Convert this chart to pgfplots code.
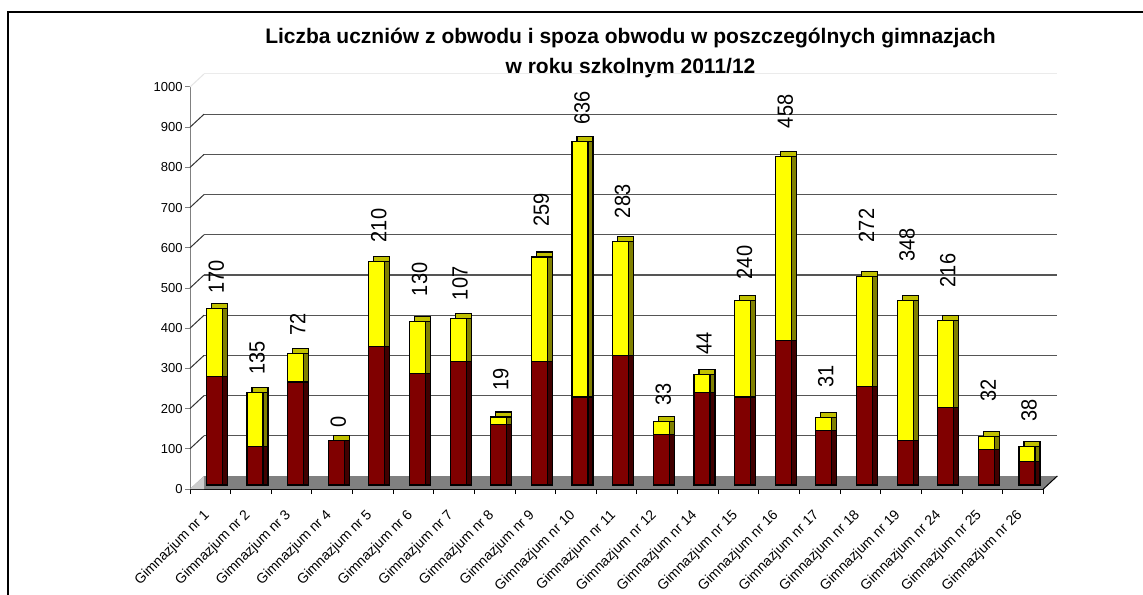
\documentclass[border=0pt]{standalone}
\usepackage{pgfplots}
\usepackage{pgfplotstable}
\pgfplotsset{compat=1.18}
\usepackage{fontspec}
\setmainfont{Liberation Sans}
\definecolor{redF}{HTML}{800000}
\definecolor{redS}{HTML}{400000}
\definecolor{yelF}{HTML}{FFFF00}
\definecolor{yelS}{HTML}{808000}
\definecolor{yelT}{HTML}{C0C000}
\definecolor{gridc}{HTML}{555555}
\definecolor{floorc}{HTML}{808080}

\pgfplotstableread{
idx red yel total lab
0 270 170 440 476
1 95 135 230 273
2 256 72 328 370
3 110 0 110 141
4 345 210 555 603
5 277 130 407 469
6 308 107 415 459
7 150 19 169 234
8 308 259 567 641
9 219 636 855 896
10 323 283 606 663
11 125 33 158 196
12 230 44 274 323
13 219 240 459 511
14 360 458 818 887
15 136 31 167 241
16 246 272 518 603
17 111 348 459 554
18 193 216 409 491
19 89 32 121 207
20 58 38 96 157
}\data

\begin{document}
\begin{tikzpicture}[x=1pt,y=1pt]
\useasboundingbox (0,0) rectangle (571.5,297);
\fill[white] (0,0) rectangle (571.5,297);
\draw[line width=0.8pt] (4,-2) -- (4,291) -- (573,291);
\node[font=\bfseries\fontsize{10.5}{15}\selectfont, align=center] at (315.25,270.5)
  {Liczba uczniów z obwodu i spoza obwodu w poszczególnych gimnazjach\\w roku szkolnym 2011/12};

\begin{axis}[
  at={(95pt,52.5pt)}, anchor=south west, scale only axis,
  width=426.65pt, height=201pt,
  xmin=-0.5, xmax=20.5, ymin=0, ymax=1000,
  axis x line*=bottom, axis y line*=left,
  x axis line style={black, line width=0.6pt, -},
  y axis line style={draw=gray, line width=0.5pt, -},
  /pgf/number format/assume math mode=true,
  /pgf/number format/1000 sep={},
  ytick={0,100,...,1000},
  xtick={0,...,20},
  xticklabels={Gimnazjum nr 1,Gimnazjum nr 2,Gimnazjum nr 3,Gimnazjum nr 4,Gimnazjum nr 5,Gimnazjum nr 6,Gimnazjum nr 7,Gimnazjum nr 8,Gimnazjum nr 9,Gimnazjum nr 10,Gimnazjum nr 11,Gimnazjum nr 12,Gimnazjum nr 14,Gimnazjum nr 15,Gimnazjum nr 16,Gimnazjum nr 17,Gimnazjum nr 18,Gimnazjum nr 19,Gimnazjum nr 24,Gimnazjum nr 25,Gimnazjum nr 26},
  minor xtick={-0.5,0.5,...,20.5},
  major x tick style={draw=none},
  minor x tick style={black, line width=0.5pt},
  y tick style={gray, line width=0.5pt},
  tick align=outside, major tick length=2.5pt, minor tick length=2.5pt,
  yticklabel style={font=\fontsize{6.5}{7}\selectfont, inner sep=1pt},
  xticklabel style={font=\fontsize{7}{8}\selectfont, xshift=-3.8pt, yshift=-7pt, rotate=45, anchor=north east, inner sep=0pt},
  clip=false,
]
% floor
\fill[floorc] (axis cs:-0.5,0) -- (axis cs:20.5,0) -- ([shift={(7pt,6.5pt)}]axis cs:20.5,0) -- ([shift={(7pt,6.5pt)}]axis cs:-0.5,0) -- cycle;
\fill[black!20] (axis cs:-0.5,0) -- ([shift={(7pt,6.5pt)}]axis cs:-0.5,0) -- ([shift={(7pt,0pt)}]axis cs:-0.5,0) -- cycle;
\draw[black, line width=0.5pt] (axis cs:20.5,0) -- ++(7pt,6.5pt);
% back-wall grid
\draw[gridc, line width=0.55pt] ([shift={(7pt,6.5pt)}]axis cs:-0.5,100) -- ([shift={(7pt,6.5pt)}]axis cs:20.5,100);
\draw[gridc, line width=0.55pt] ([shift={(7pt,6.5pt)}]axis cs:-0.5,200) -- ([shift={(7pt,6.5pt)}]axis cs:20.5,200);
\draw[gridc, line width=0.55pt] ([shift={(7pt,6.5pt)}]axis cs:-0.5,300) -- ([shift={(7pt,6.5pt)}]axis cs:20.5,300);
\draw[gridc, line width=0.55pt] ([shift={(7pt,6.5pt)}]axis cs:-0.5,400) -- ([shift={(7pt,6.5pt)}]axis cs:20.5,400);
\draw[gridc, line width=0.55pt] ([shift={(7pt,6.5pt)}]axis cs:-0.5,500) -- ([shift={(7pt,6.5pt)}]axis cs:20.5,500);
\draw[gridc, line width=0.55pt] ([shift={(7pt,6.5pt)}]axis cs:-0.5,600) -- ([shift={(7pt,6.5pt)}]axis cs:20.5,600);
\draw[gridc, line width=0.55pt] ([shift={(7pt,6.5pt)}]axis cs:-0.5,700) -- ([shift={(7pt,6.5pt)}]axis cs:20.5,700);
\draw[gridc, line width=0.55pt] ([shift={(7pt,6.5pt)}]axis cs:-0.5,800) -- ([shift={(7pt,6.5pt)}]axis cs:20.5,800);
\draw[gridc, line width=0.55pt] ([shift={(7pt,6.5pt)}]axis cs:-0.5,900) -- ([shift={(7pt,6.5pt)}]axis cs:20.5,900);
\draw[black!8, line width=0.5pt] ([shift={(7pt,6.5pt)}]axis cs:-0.5,1000) -- ([shift={(7pt,6.5pt)}]axis cs:20.5,1000);
\draw[black!80, line width=0.5pt] (axis cs:-0.5,100) -- ++(7pt,6.5pt);
\draw[black!80, line width=0.5pt] (axis cs:-0.5,200) -- ++(7pt,6.5pt);
\draw[black!80, line width=0.5pt] (axis cs:-0.5,300) -- ++(7pt,6.5pt);
\draw[black!80, line width=0.5pt] (axis cs:-0.5,400) -- ++(7pt,6.5pt);
\draw[black!80, line width=0.5pt] (axis cs:-0.5,500) -- ++(7pt,6.5pt);
\draw[black!80, line width=0.5pt] (axis cs:-0.5,600) -- ++(7pt,6.5pt);
\draw[black!80, line width=0.5pt] (axis cs:-0.5,700) -- ++(7pt,6.5pt);
\draw[black!80, line width=0.5pt] (axis cs:-0.5,800) -- ++(7pt,6.5pt);
\draw[black!80, line width=0.5pt] (axis cs:-0.5,900) -- ++(7pt,6.5pt);
\draw[black!10, line width=0.5pt] (axis cs:-0.5,1000) -- ++(7pt,6.5pt);
% bars: depth copies
\addplot[ybar, bar width=8pt, bar shift=0pt, fill=yelT, draw=black, line width=0.6pt, xshift=4.5pt, yshift=4.5pt] table[x=idx, y=total] {\data};
\addplot[ybar, bar width=8pt, bar shift=0pt, fill=yelS, draw=black, line width=0.6pt, xshift=4.5pt, yshift=2pt] table[x=idx, y=total] {\data};
\addplot[ybar, bar width=8pt, bar shift=0pt, fill=redS, draw=black, line width=0.6pt, xshift=4.5pt, yshift=2pt] table[x=idx, y=red] {\data};
% bars: front faces
\addplot[ybar, bar width=8pt, bar shift=0pt, fill=yelF, draw=black, line width=0.6pt, xshift=2pt, yshift=2pt] table[x=idx, y=total] {\data};
\addplot[ybar, bar width=8pt, bar shift=0pt, fill=redF, draw=black, line width=0.6pt, xshift=2pt, yshift=2pt] table[x=idx, y=red] {\data};
% value labels (spoza obwodu)
\addplot[draw=none, mark=none, xshift=3pt, yshift=2pt, point meta=explicit,
  nodes near coords={\scalebox{1}[1.1]{\pgfmathprintnumber{\pgfplotspointmeta}}},
  every node near coord/.style={rotate=90, anchor=west, inner sep=0pt, font=\fontsize{10}{11}\selectfont}]
  table[x=idx, y=lab, meta=yel] {\data};
\end{axis}
\end{tikzpicture}
\end{document}
